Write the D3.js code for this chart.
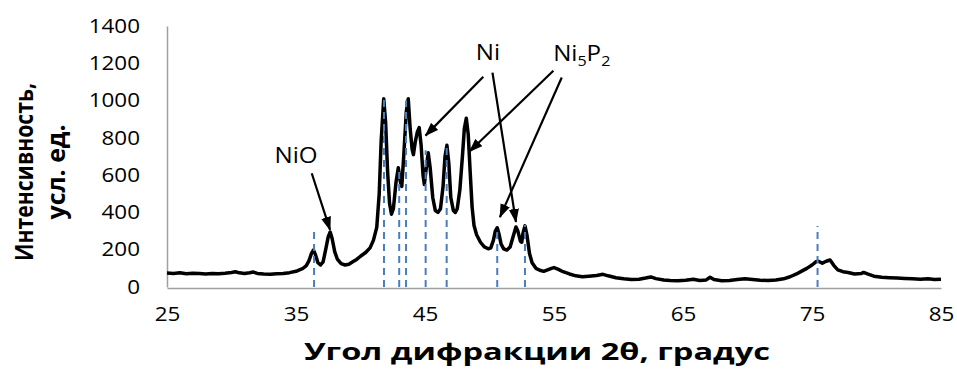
<!DOCTYPE html>
<html>
<head>
<meta charset="utf-8">
<script src="https://cdn.jsdelivr.net/npm/d3@7"></script>
<style>
  body { margin: 0; background: #fff; }
  svg { display: block; }
</style>
</head>
<body>
<svg id="chart" width="957" height="372"></svg>
<script>
// Diffraction pattern: angle 2θ (degrees) and intensity (arb. units)
const twoTheta = [
  25, 25.5, 26, 26.5, 27, 27.5, 28, 28.5, 29, 29.5, 30, 30.3, 30.6, 31, 31.4, 31.7,
  32, 32.5, 33, 33.5, 34, 34.5, 35, 35.5, 35.8, 36.0, 36.2, 36.35, 36.5, 36.7, 36.9,
  37.1, 37.3, 37.5, 37.65, 37.8, 38.0, 38.2, 38.5, 38.8, 39.1, 39.4, 39.7, 40.0, 40.4,
  40.74, 41.0, 41.26, 41.45, 41.6, 41.8, 41.95, 42.1, 42.25, 42.4, 42.55, 42.75, 42.93,
  43.1, 43.2, 43.35, 43.55, 43.7, 43.85, 44.0, 44.1, 44.25, 44.4, 44.55, 44.7, 44.85,
  44.95, 45.1, 45.25, 45.4, 45.6, 45.8, 46.0, 46.2, 46.4, 46.55, 46.7, 46.85, 47.0,
  47.2, 47.35, 47.5, 47.7, 47.9, 48.05, 48.2, 48.35, 48.5, 48.65, 48.8, 49.0, 49.3,
  49.6, 49.9, 50.1, 50.3, 50.45, 50.6, 50.75, 50.9, 51.1, 51.35, 51.6, 51.85, 52.05,
  52.2, 52.4, 52.5, 52.6, 52.75, 52.9, 53.1, 53.3, 53.6, 53.9, 54.2, 54.5, 54.8, 55.0,
  55.3, 55.7, 56.2, 56.7, 57.2, 57.7, 58.3, 58.8, 59.2, 59.8, 60.4, 61, 61.6, 62.1,
  62.5, 62.9, 63.5, 64.0, 64.6, 65.2, 65.8, 66.3, 66.8, 67.1, 67.4, 68, 68.6, 69.2,
  69.8, 70.4, 71, 71.6, 72.2, 72.8, 73.3, 73.8, 74.2, 74.6, 75.0, 75.3, 75.5, 75.8,
  76.1, 76.4, 76.7, 77.0, 77.4, 77.8, 78.3, 78.8, 79.0, 79.3, 79.8, 80.4, 81, 81.6,
  82.2, 82.8, 83.4, 84, 84.5, 85
];
const counts = [
  75, 73, 76, 71, 74, 72, 70, 73, 71, 74, 78, 82, 76, 72, 76, 80,
  73, 70, 68, 71, 73, 77, 84, 98, 115, 140, 180, 198, 175, 130, 118,
  135, 200, 270, 295, 260, 190, 150, 125, 118, 122, 135, 148, 165, 185,
  210, 250, 320, 500, 780, 1010, 880, 620, 450, 390, 420, 560, 640,
  560, 540, 700, 940, 1010, 850, 740, 710, 780, 830, 855, 760, 600,
  550, 640, 720, 640, 480, 410, 400, 420, 540, 700, 760, 660, 480,
  410, 400, 420, 520, 700, 850, 905, 820, 620, 430, 330, 280, 240,
  215, 205, 210, 250, 300, 318, 280, 230, 205, 198, 215, 275, 322,
  300, 245, 240, 290, 328, 280, 180, 130, 100, 90, 84, 92, 100, 104,
  96, 82, 70, 60, 55, 58, 62, 68, 60, 50, 44, 40, 42, 48,
  54, 45, 38, 35, 34, 36, 42, 35, 38, 52, 40, 33, 35, 40,
  44, 40, 36, 35, 38, 44, 55, 70, 85, 100, 118, 135, 138, 128,
  138, 145, 115, 92, 82, 78, 70, 72, 78, 70, 58, 52, 50, 48,
  46, 44, 42, 44, 40, 42
];

// Reference line positions and heights for the identified phases
const refAngles  = [36.4, 41.82, 43.0, 43.53, 45.05, 46.68, 50.6, 52.75, 75.43];
const refHeights = [322, 1029, 640, 1000, 734, 761, 322, 332, 327];

const xTicks = [25, 35, 45, 55, 65, 75, 85];
const yTicks = [0, 200, 400, 600, 800, 1000, 1200, 1400];

// Phase labels and their pointer arrows (in angle / intensity units)
const phaseLabels = [
  { name: "NiO",   angle: 35.0,  level: 665 },
  { name: "Ni",    angle: 49.88, level: 1217 },
  { name: "Ni5P2", angle: 57.15, level: 1213 }
];
const arrowStart = [[36.22, 610], [49.52, 1128], [50.23, 1150], [54.95, 1160], [55.6, 1124]];
const arrowEnd   = [[37.64, 306], [45.04, 812],  [52.05, 349],  [48.45, 727],  [50.81, 375]];

const FONT = "'Open Sans', 'Noto Sans', sans-serif";
const SX = 1.15; // horizontal text stretch

const svg = d3.select("#chart");
const plot = { left: 167, right: 941, top: 26, bottom: 287 };

const x = d3.scaleLinear().domain([25, 85]).range([plot.left, plot.right]);
const y = d3.scaleLinear().domain([0, 1400]).range([plot.bottom, plot.top]);

// Axes
const yAxis = svg.append("g")
  .attr("transform", `translate(${plot.left},0)`)
  .call(d3.axisLeft(y).tickValues(yTicks).tickSize(0).tickFormat(d3.format("d")));
yAxis.select(".domain").attr("stroke", "#a0a0a0").attr("stroke-width", 1.5);
yAxis.selectAll("text")
  .attr("x", -27 / SX)
  .attr("transform", `scale(${SX},1)`)
  .attr("font-family", FONT).attr("font-size", 19.5).attr("fill", "#000");

const xAxis = svg.append("g")
  .attr("transform", `translate(0,${plot.bottom + 1})`)
  .call(d3.axisBottom(x).tickValues(xTicks).tickSize(0).tickFormat(d3.format("d")));
xAxis.select(".domain").attr("stroke", "#a0a0a0").attr("stroke-width", 1.5);
xAxis.selectAll("text")
  .attr("y", 19)
  .attr("transform", `scale(${SX},1)`)
  .attr("font-family", FONT).attr("font-size", 19.5).attr("fill", "#000");

// Diffraction curve
const pts = twoTheta.map((t, i) => [t, counts[i]]);
svg.append("path")
  .datum(pts)
  .attr("fill", "none")
  .attr("stroke", "#000")
  .attr("stroke-width", 3.5)
  .attr("stroke-linejoin", "round")
  .attr("d", d3.line().x(d => x(d[0])).y(d => y(d[1])));

// Dashed reference lines
svg.append("g").selectAll("line")
  .data(refAngles)
  .join("line")
  .attr("x1", d => x(d)).attr("x2", d => x(d))
  .attr("y1", y(0)).attr("y2", (d, i) => y(refHeights[i]))
  .attr("stroke", "#4a7ebb")
  .attr("stroke-width", 2)
  .attr("stroke-dasharray", "7,5");

// Arrows
svg.append("defs").append("marker")
  .attr("id", "head")
  .attr("markerUnits", "userSpaceOnUse")
  .attr("markerWidth", 14).attr("markerHeight", 10)
  .attr("refX", 13).attr("refY", 5)
  .attr("orient", "auto")
  .append("path").attr("d", "M0,0 L14,5 L0,10 Z").attr("fill", "#000");

svg.append("g").selectAll("line")
  .data(arrowStart)
  .join("line")
  .attr("x1", d => x(d[0])).attr("y1", d => y(d[1]))
  .attr("x2", (d, i) => x(arrowEnd[i][0])).attr("y2", (d, i) => y(arrowEnd[i][1]))
  .attr("stroke", "#000").attr("stroke-width", 2.2)
  .attr("marker-end", "url(#head)");

// Phase labels
const lbl = svg.append("g").selectAll("g")
  .data(phaseLabels)
  .join("g")
  .attr("transform", d => `translate(${x(d.angle)},${y(d.level)}) scale(${SX},1)`)
  .append("text")
  .attr("text-anchor", "middle")
  .attr("font-family", FONT).attr("font-size", 21).attr("fill", "#000");
lbl.each(function(d) {
  const t = d3.select(this);
  if (d.name === "Ni5P2") {
    t.append("tspan").text("Ni");
    t.append("tspan").text("5").attr("font-size", 14).attr("dy", 5);
    t.append("tspan").text("P").attr("dy", -5);
    t.append("tspan").text("2").attr("font-size", 14).attr("dy", 5);
  } else {
    t.text(d.name);
  }
});

// Axis titles
svg.append("text")
  .attr("x", 537).attr("y", 360)
  .attr("text-anchor", "middle")
  .attr("font-family", FONT).attr("font-size", 23).attr("font-weight", "bold")
  .attr("textLength", 466).attr("lengthAdjust", "spacingAndGlyphs")
  .text("Угол дифракции 2θ, градус");

const yt = svg.append("g")
  .attr("transform", `translate(0,172) scale(${SX},1) rotate(-90)`)
  .append("text")
  .attr("text-anchor", "middle")
  .attr("font-family", FONT).attr("font-size", 22).attr("font-weight", "bold");
yt.append("tspan").attr("x", 0).attr("y", 33 / SX)
  .attr("textLength", 178).attr("lengthAdjust", "spacingAndGlyphs")
  .text("Интенсивность,");
yt.append("tspan").attr("x", 0).attr("y", 65 / SX)
  .attr("textLength", 95).attr("lengthAdjust", "spacingAndGlyphs")
  .text("усл. ед.");
</script>
</body>
</html>
